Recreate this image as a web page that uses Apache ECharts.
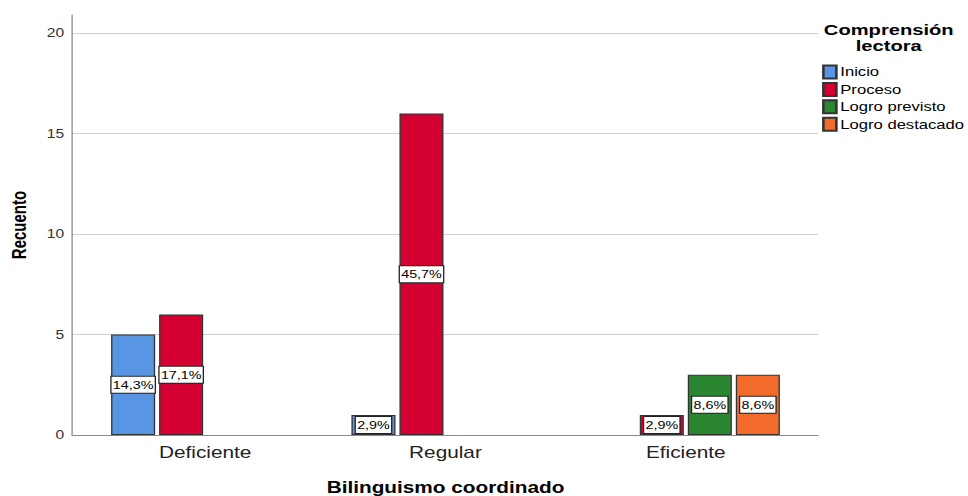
<!DOCTYPE html>
<html>
<head>
<meta charset="utf-8">
<script src="https://cdn.jsdelivr.net/npm/echarts@6/dist/echarts.min.js"></script>
<style>
  html, body { margin: 0; padding: 0; background: #fff; overflow: hidden; }
  #wrap { width: 968px; height: 496px; overflow: hidden; }
  #chart { width: 745px; height: 496px; transform: scaleX(1.29933); transform-origin: 0 0; }
</style>
</head>
<body>
<div id="wrap"><div id="chart"></div></div>
<script>
// ---- data ----
const categories = ['Deficiente', 'Regular', 'Eficiente'];
const seriesNames = ['Inicio', 'Proceso', 'Logro previsto', 'Logro destacado'];
const inicio = [5, 1, 0];
const proceso = [6, 16, 1];
const logroPrevisto = [0, 0, 3];
const logroDestacado = [0, 0, 3];
const yTicks = [0, 5, 10, 15, 20];
const colors = ['#5895e2', '#d50032', '#2b8631', '#f26b2b'];

const allValues = [inicio, proceso, logroPrevisto, logroDestacado];
const total = allValues.flat().reduce((a, b) => a + b, 0);
const FONT = '"Liberation Sans", Arial, sans-serif';

const chart = echarts.init(document.getElementById('chart'), null, { renderer: 'svg' });

const series = allValues.map((vals, i) => ({
  name: seriesNames[i],
  type: 'bar',
  xAxisIndex: 1,
  yAxisIndex: 1,
  barWidth: 33.9,
  barGap: '9%',
  data: vals.map(v => (v === 0 ? '-' : v)),
  itemStyle: { color: colors[i], borderColor: '#333', borderWidth: 1 },
  label: {
    show: true,
    position: 'inside',
    formatter: p => (p.value / total * 100).toFixed(1).replace('.', ',') + '%',
    fontFamily: FONT,
    fontSize: 11,
    lineHeight: 13,
    color: '#000',
    backgroundColor: '#fff',
    borderColor: '#222',
    borderWidth: 1,
    padding: [2, 1, 1, 1]
  },
  emphasis: { disabled: true }
}));

chart.setOption({
  animation: false,
  textStyle: { fontFamily: FONT },
  grid: [
    { left: 55.4, right: 115.4, top: 15, bottom: 61, outerBoundsMode: 'none', containLabel: false },
    { left: 65.4, width: 554.9, top: 15, bottom: 61, outerBoundsMode: 'none', containLabel: false }
  ],
  xAxis: [
    {
      gridIndex: 0, type: 'value', min: 0, max: 1,
      axisLine: { show: true, lineStyle: { color: '#8a8a8a', width: 1 } },
      axisTick: { show: false }, axisLabel: { show: false }, splitLine: { show: false }
    },
    {
      gridIndex: 1, type: 'category', data: categories,
      axisLine: { show: false }, axisTick: { show: false },
      axisLabel: { fontSize: 16, color: '#222', margin: 9, fontFamily: FONT },
      name: 'Bilinguismo coordinado', nameLocation: 'middle', nameGap: 44,
      nameTextStyle: { fontSize: 16, fontWeight: 'bold', color: '#000', fontFamily: FONT }
    }
  ],
  yAxis: [
    {
      gridIndex: 0, type: 'value', min: 0, max: 20.9, interval: 5,
      axisLine: { show: true, lineStyle: { color: '#8a8a8a', width: 1 } },
      axisTick: { show: false },
      axisLabel: {
        fontSize: 12, color: '#333', margin: 6, fontFamily: FONT,
        formatter: v => (yTicks.indexOf(v) >= 0 ? String(v) : ''),
        showMaxLabel: false
      },
      splitLine: { show: true, showMaxLine: false, lineStyle: { color: '#cfcfcf', width: 1 } },
      name: 'Recuento', nameLocation: 'middle', nameGap: 33,
      nameTextStyle: { fontSize: 15, fontWeight: 'bold', color: '#000', fontFamily: FONT }
    },
    {
      gridIndex: 1, type: 'value', min: 0, max: 20.9, interval: 5, show: false,
      splitLine: { show: false }
    }
  ],
  legend: {
    orient: 'vertical',
    left: 632.7,
    top: 64.5,
    padding: 0,
    itemWidth: 10,
    itemHeight: 13,
    itemGap: 2.4,
    icon: 'rect',
    selectedMode: false,
    data: seriesNames,
    textStyle: { fontSize: 12.8, lineHeight: 13, color: '#000', fontFamily: FONT, padding: [0, 0, 0, -2] }
  },
  graphic: [
    {
      type: 'text', x: 684, y: 21.5,
      style: {
        text: 'Comprensión\nlectora',
        textAlign: 'center',
        fontSize: 15.5, fontWeight: 'bold', fontFamily: FONT,
        lineHeight: 16.5, fill: '#000'
      }
    }
  ],
  series: series
});
</script>
</body>
</html>
